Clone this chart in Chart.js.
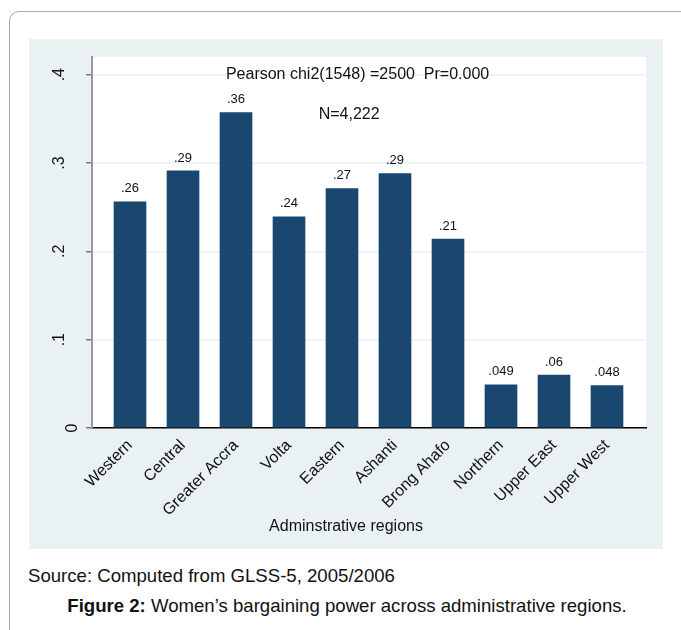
<!DOCTYPE html>
<html>
<head>
<meta charset="utf-8">
<script src="https://cdn.jsdelivr.net/npm/chart.js@4"></script>
<style>
body { margin:0; background:#fff; width:681px; height:630px; overflow:hidden; position:relative; font-family:"Liberation Sans", Arial, sans-serif; }
#box { position:absolute; left:9px; top:11px; width:720px; height:700px; border:1px solid #a8a8a8; border-radius:10px; }
#wrap { position:absolute; left:29px; top:39px; width:634px; height:510px; background:#eaf1f3; }
#myChart { display:block; }
#src { position:absolute; left:28px; top:565px; font-size:18.6px; color:#111; white-space:nowrap; }
#cap { position:absolute; left:0; width:694px; top:595px; font-size:18.6px; color:#111; text-align:center; white-space:nowrap; }
</style>
</head>
<body>
<div id="box"></div>
<div id="wrap"><canvas id="myChart" width="634" height="510"></canvas></div>
<div id="src">Source: Computed from GLSS-5, 2005/2006</div>
<div id="cap"><b>Figure 2:</b> Women’s bargaining power across administrative regions.</div>
<script>
// data
var regions = ['Western','Central','Greater Accra','Volta','Eastern','Ashanti','Brong Ahafo','Northern','Upper East','Upper West'];
var power = [0.256, 0.291, 0.357, 0.239, 0.271, 0.288, 0.214, 0.049, 0.060, 0.048];
var powerLabels = ['.26','.29','.36','.24','.27','.29','.21','.049','.06','.048'];
var yTicks = [0, 0.1, 0.2, 0.3, 0.4];
var yTickLabels = ['0','.1','.2','.3','.4'];
var notes = ['Pearson chi2(1548) =2500  Pr=0.000', 'N=4,222'];
var xTitle = 'Adminstrative regions';

var navy = '#1a476f';
var font = '"Liberation Sans", Arial, sans-serif';

var barData = [];
for(let i=0;i<power.length;i++){
	barData.push({x: i, y: power[i]});
}

// white plot region, value labels, rotated y labels, notes, axis title
var drawExtras = {
	id: 'drawExtras',
	beforeDraw: function(chart){
		const a = chart.chartArea;
		const c = chart.ctx;
		c.save();
		c.fillStyle = '#fff';
		c.fillRect(a.left, a.top, a.right-a.left, a.bottom-a.top);
		c.restore();
	},
	afterDatasetsDraw: function(chart){
		const c = chart.ctx;
		const meta = chart.getDatasetMeta(0);
		c.save();
		c.fillStyle = '#111';
		c.font = '13px ' + font;
		c.textAlign = 'center';
		c.textBaseline = 'middle';
		meta.data.forEach(function(bar, i){
			c.fillText(powerLabels[i], bar.x, bar.y - 13);
		});
		c.restore();
	},
	afterDraw: function(chart){
		const c = chart.ctx;
		const ys = chart.scales.y;
		const xs = chart.scales.x;
		c.save();
		c.fillStyle = '#111';
		c.font = '16px ' + font;
		c.textAlign = 'center';
		c.textBaseline = 'middle';
		for(let i=0;i<yTicks.length;i++){
			const py = ys.getPixelForValue(yTicks[i]);
			const px = yTicks[i] == 0 ? 44 : 31;
			c.save();
			c.translate(px, py);
			c.rotate(-Math.PI/2);
			c.fillText(yTickLabels[i], 0, 0);
			c.restore();
		}
		// axis title sits at the middle of the whole graph region
		c.fillText(xTitle, chart.width/2, 488);
		c.textAlign = 'left';
		c.fillText(notes[0], xs.getPixelForValue(1.81), ys.getPixelForValue(0.4));
		c.fillText(notes[1], xs.getPixelForValue(3.56), ys.getPixelForValue(0.355));
		c.restore();
	}
};

var ctx = document.getElementById('myChart');
var chart1 = new Chart(ctx, {
	type: 'bar',
	data: {
		datasets: [{
			label: 'bargaining power',
			data: barData,
			backgroundColor: navy,
			borderWidth: 0,
			barThickness: 32
		}]
	},
	options: {
		responsive: false,
		animation: false,
		layout: { padding: { top: 18, right: 17, left: 0, bottom: 0 } },
		plugins: { legend: { display: false }, tooltip: { enabled: false } },
		scales: {
			x: {
				type: 'linear',
				offset: false,
				min: -0.717,
				max: 9.736,
				afterFit: function(s){ s.height = 121; },
				grid: { display: false },
				border: { color: '#000', width: 1.5 },
				ticks: {
					stepSize: 1,
					autoSkip: false,
					includeBounds: false,
					minRotation: 45,
					maxRotation: 45,
					padding: 0,
					color: '#111',
					font: { family: font, size: 16 },
					callback: function(v){ return Number.isInteger(v) ? regions[v] : ''; }
				}
			},
			y: {
				min: 0,
				max: 0.42,
				afterFit: function(s){ s.width = 63; },
				grid: { color: '#eaf1f3', lineWidth: 1.5, tickColor: '#777', tickLength: 6 },
				border: { color: '#999', width: 2 },
				ticks: { stepSize: 0.1, includeBounds: false, display: false }
			}
		}
	},
	plugins: [drawExtras]
});
</script>
</body>
</html>
